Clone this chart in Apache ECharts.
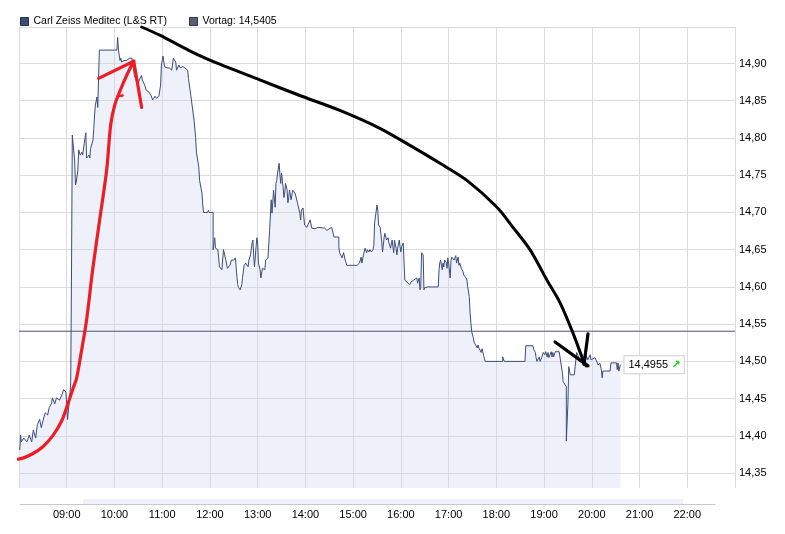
<!DOCTYPE html>
<html><head><meta charset="utf-8">
<script src="https://cdn.jsdelivr.net/npm/echarts@6/dist/echarts.min.js"></script>
<style>html,body{margin:0;padding:0;background:#fff}#c{width:785px;height:534px}</style>
</head><body><div id="c"></div>
<script>
const seriesName = 'Carl Zeiss Meditec (L&S RT)';
const prevCloseName = 'Vortag: 14,5405';
const prevClose = 14.5405;
const axisStart = '08:00', axisEnd = '23:00';
const yMin = 14.33, yMax = 14.949;
const yLabelValues = [14.35,14.40,14.45,14.50,14.55,14.60,14.65,14.70,14.75,14.80,14.85,14.90];
const navBand = ['09:19','21:50'];
const navRange = ['08:00','22:30'];

const priceTicks = [['08:01',14.381],['08:02',14.401],['08:03',14.392],['08:06',14.397],['08:10',14.392],['08:13',14.401],['08:16',14.392],['08:18',14.408],['08:21',14.397],['08:23',14.415],['08:26',14.422],['08:28',14.411],['08:31',14.424],['08:33',14.431],['08:36',14.428],['08:38',14.438],['08:41',14.444],['08:42',14.451],['08:45',14.443],['08:47',14.451],['08:51',14.448],['08:54',14.455],['08:56',14.462],['08:59',14.459],['09:01',14.422],['09:04',14.455],['09:05',14.473],['09:06',14.473],['09:06',14.620],['09:07',14.620],['09:07',14.804],['09:08',14.804],['09:10',14.769],['09:11',14.737],['09:12',14.741],['09:14',14.757],['09:15',14.784],['09:16',14.786],['09:17',14.777],['09:19',14.781],['09:20',14.777],['09:22',14.793],['09:24',14.807],['09:25',14.773],['09:28',14.777],['09:29',14.773],['09:30',14.786],['09:33',14.797],['09:34',14.813],['09:35',14.831],['09:36',14.844],['09:38',14.855],['09:39',14.841],['09:41',14.841],['09:41',14.918],['10:03',14.918],['10:04',14.935],['10:05',14.918],['10:07',14.904],['10:08',14.907],['10:09',14.902],['10:12',14.904],['10:15',14.904],['10:19',14.907],['10:22',14.907],['10:25',14.884],['10:29',14.872],['10:32',14.880],['10:34',14.884],['10:35',14.878],['10:38',14.871],['10:40',14.864],['10:43',14.862],['10:46',14.857],['10:48',14.851],['10:51',14.856],['10:53',14.853],['10:56',14.857],['10:58',14.871],['10:59',14.898],['11:01',14.910],['11:03',14.896],['11:06',14.894],['11:09',14.894],['11:12',14.891],['11:14',14.907],['11:17',14.902],['11:18',14.891],['11:21',14.898],['11:23',14.894],['11:26',14.896],['11:28',14.894],['11:32',14.891],['11:33',14.880],['11:36',14.857],['11:38',14.855],['11:40',14.824],['11:42',14.801],['11:43',14.781],['11:46',14.761],['11:47',14.743],['11:50',14.726],['11:51',14.710],['11:52',14.700],['11:57',14.700],['11:58',14.703],['11:59',14.700],['12:04',14.700],['12:04',14.650],['12:06',14.666],['12:07',14.652],['12:10',14.650],['12:12',14.627],['12:15',14.623],['12:17',14.650],['12:20',14.636],['12:22',14.625],['12:25',14.629],['12:27',14.636],['12:30',14.636],['12:32',14.639],['12:34',14.613],['12:35',14.603],['12:36',14.599],['12:38',14.596],['12:40',14.603],['12:41',14.613],['12:43',14.629],['12:45',14.632],['12:48',14.627],['12:49',14.636],['12:51',14.643],['12:53',14.659],['12:54',14.663],['12:55',14.643],['12:56',14.627],['12:58',14.654],['12:59',14.666],['13:00',14.659],['13:01',14.632],['13:03',14.623],['13:04',14.612],['13:06',14.625],['13:09',14.623],['13:10',14.636],['13:13',14.639],['13:15',14.676],['13:17',14.717],['13:18',14.699],['13:19',14.714],['13:20',14.730],['13:22',14.707],['13:23',14.739],['13:24',14.743],['13:25',14.753],['13:27',14.766],['13:28',14.750],['13:29',14.739],['13:30',14.753],['13:32',14.734],['13:33',14.720],['13:34',14.726],['13:35',14.739],['13:37',14.730],['13:38',14.713],['13:39',14.720],['13:40',14.730],['13:42',14.717],['13:44',14.730],['13:47',14.726],['13:49',14.727],['13:50',14.713],['13:53',14.699],['13:54',14.690],['13:55',14.703],['13:57',14.706],['13:58',14.694],['13:59',14.683],['14:02',14.680],['14:03',14.683],['14:06',14.690],['14:07',14.692],['14:08',14.679],['14:12',14.678],['14:16',14.680],['14:18',14.682],['14:24',14.679],['14:27',14.676],['14:33',14.680],['14:36',14.667],['14:42',14.667],['14:42',14.654],['14:43',14.646],['14:46',14.639],['14:47',14.640],['14:48',14.646],['14:50',14.636],['14:51',14.633],['14:52',14.629],['15:05',14.629],['15:08',14.632],['15:10',14.640],['15:11',14.632],['15:13',14.643],['15:15',14.652],['15:16',14.650],['15:17',14.646],['15:18',14.650],['15:20',14.647],['15:21',14.650],['15:23',14.647],['15:25',14.650],['15:26',14.656],['15:27',14.686],['15:30',14.710],['15:31',14.703],['15:32',14.683],['15:34',14.680],['15:35',14.670],['15:36',14.660],['15:37',14.647],['15:39',14.667],['15:40',14.672],['15:41',14.667],['15:42',14.663],['15:44',14.666],['15:45',14.659],['15:46',14.656],['15:47',14.652],['15:49',14.663],['15:50',14.654],['15:51',14.646],['15:52',14.663],['15:54',14.652],['15:55',14.643],['15:56',14.652],['15:58',14.663],['15:59',14.654],['16:00',14.647],['16:01',14.654],['16:03',14.659],['16:04',14.632],['16:05',14.609],['16:06',14.607],['16:11',14.603],['16:13',14.607],['16:15',14.605],['16:16',14.609],['16:20',14.612],['16:21',14.605],['16:23',14.612],['16:24',14.596],['16:25',14.599],['16:26',14.646],['16:28',14.643],['16:29',14.596],['16:30',14.599],['16:34',14.600],['16:47',14.600],['16:48',14.623],['16:49',14.633],['16:50',14.636],['16:52',14.623],['16:53',14.632],['16:54',14.627],['16:55',14.636],['16:57',14.633],['16:58',14.625],['16:59',14.639],['17:00',14.632],['17:02',14.612],['17:03',14.636],['17:04',14.640],['17:07',14.636],['17:08',14.639],['17:09',14.642],['17:10',14.632],['17:12',14.640],['17:13',14.629],['17:14',14.632],['17:16',14.625],['17:18',14.621],['17:19',14.616],['17:22',14.612],['17:23',14.609],['17:24',14.600],['17:26',14.587],['17:27',14.565],['17:28',14.552],['17:29',14.540],['17:31',14.532],['17:32',14.526],['17:33',14.525],['17:34',14.522],['17:36',14.518],['17:37',14.522],['17:38',14.518],['17:39',14.516],['17:41',14.512],['17:42',14.517],['17:43',14.513],['17:44',14.508],['17:46',14.500],['18:08',14.500],['18:08',14.506],['18:10',14.500],['18:36',14.500],['18:37',14.521],['18:46',14.521],['18:47',14.516],['18:49',14.512],['18:50',14.505],['18:51',14.500],['18:54',14.506],['18:55',14.500],['18:57',14.505],['18:59',14.512],['19:01',14.509],['19:02',14.513],['19:04',14.506],['19:05',14.512],['19:06',14.505],['19:09',14.513],['19:10',14.506],['19:11',14.512],['19:12',14.506],['19:14',14.513],['19:16',14.512],['19:19',14.513],['19:21',14.512],['19:23',14.485],['19:24',14.473],['19:26',14.471],['19:28',14.466],['19:28',14.393],['19:29',14.393],['19:30',14.444],['19:31',14.493],['19:33',14.482],['19:38',14.482],['19:39',14.493],['19:41',14.512],['19:45',14.502],['19:49',14.506],['19:52',14.500],['19:53',14.508],['19:55',14.502],['19:58',14.509],['19:59',14.502],['20:04',14.505],['20:07',14.498],['20:08',14.495],['20:10',14.498],['20:12',14.489],['20:13',14.478],['20:14',14.487],['20:17',14.487],['20:23',14.487],['20:24',14.498],['20:31',14.498],['20:32',14.489],['20:33',14.498],['20:34',14.487],['20:36',14.4955]];

// hand-drawn annotations, in (minutes since midnight, price) coordinates
const redCurve = [[458.1,14.368],[480.8,14.369],[497.1,14.376],[509.6,14.385],[522.3,14.400],[533.6,14.420],[541.1,14.442],[547.4,14.462],[552.5,14.478],[558.7,14.515],[565.0,14.556],[572.6,14.623],[581.4,14.690],[590.2,14.757],[595.2,14.817],[600.3,14.844],[606.5,14.862],[615.3,14.884],[624.2,14.903]];
const redBarbLeft = [[580.1,14.880],[624.2,14.903]];
const redBarbRight = [[624.2,14.903],[634.2,14.841]];
const redSpur = [[604.0,14.856],[610.3,14.857]];
const blackCurve = [[634.2,14.949],[656.9,14.938],[698.4,14.915],[732.3,14.899],[782.7,14.878],[833.0,14.857],[883.3,14.837],[933.6,14.813],[971.4,14.790],[1009.1,14.766],[1043.0,14.743],[1080.8,14.707],[1100.9,14.680],[1122.3,14.650],[1143.7,14.609],[1160.0,14.579],[1176.4,14.538],[1189.0,14.502],[1192.8,14.494]];
const blackBarbLeft = [[1153.8,14.526],[1195.2,14.494]];
const blackBarbRight = [[1195.2,14.537],[1190.2,14.496]];

function toMin(t){const p=t.split(':');return (+p[0])*60+(+p[1]);}
function pad(n){return (n<10?'0':'')+n;}
function fmtTime(v){return pad(Math.floor(v/60))+':'+pad(v%60);}
function fmtNum(v,d){return v.toFixed(d).replace('.',',');}

const FONT = 'Liberation Sans';
const chart = echarts.init(document.getElementById('c'), null, {renderer:'canvas'});
const mainData = priceTicks.map(p=>[toMin(p[0]),p[1]]);
const xMin = toMin(axisStart), xMax = toMin(axisEnd);

function stroke(data, color, width, smooth){
  return {type:'line', data:data, xAxisIndex:0, yAxisIndex:0, symbol:'none', clip:false, silent:true,
    smooth:smooth, lineStyle:{color:color, width:width, cap:'round', join:'round'}, z:10, animation:false};
}

chart.setOption({
  animation:false,
  backgroundColor:'#fff',
  textStyle:{fontFamily:FONT},
  legend:[
    {left:20, top:16, padding:0, icon:'rect', itemWidth:8, itemHeight:8, selectedMode:false,
     data:[{name:seriesName, itemStyle:{color:'#3e4b72', borderColor:'#25304d', borderWidth:1}}],
     textStyle:{fontFamily:FONT, fontSize:10.5, color:'#000'}},
    {left:189, top:16, padding:0, icon:'rect', itemWidth:8, itemHeight:8, selectedMode:false,
     data:[{name:prevCloseName, itemStyle:{color:'#5a5f70', borderColor:'#33384a', borderWidth:1}}],
     textStyle:{fontFamily:FONT, fontSize:10.5, color:'#000'}}
  ],
  grid:[
    {left:19, right:50, top:27, bottom:46},
    {left:20, top:499, width:695, height:5}
  ],
  xAxis:[
    {type:'value', gridIndex:0, min:xMin, max:xMax, interval:60,
     axisLine:{show:false}, axisTick:{show:false},
     splitLine:{show:true, lineStyle:{color:'#dcdcdc', width:1}},
     axisLabel:{show:true, margin:21, showMinLabel:false, showMaxLabel:false, formatter:fmtTime,
       fontFamily:FONT, fontSize:11, color:'#000'}},
    {type:'value', gridIndex:1, min:toMin(navRange[0]), max:toMin(navRange[1]),
     axisLine:{show:true, lineStyle:{color:'#c8c8c8'}}, axisTick:{show:false}, axisLabel:{show:false}, splitLine:{show:false}}
  ],
  yAxis:[
    {type:'value', gridIndex:0, position:'right', min:yMin, max:yMax,
     axisLine:{show:false},
     axisTick:{show:false, customValues:yLabelValues.concat([yMax])},
     splitLine:{show:true, lineStyle:{color:'#dcdcdc', width:1}},
     axisLabel:{show:true, margin:4, customValues:yLabelValues, formatter:v=>fmtNum(v,2),
       fontFamily:FONT, fontSize:11, color:'#000'}},
    {type:'value', gridIndex:1, min:0, max:1, show:false}
  ],
  series:[
    {name:seriesName, type:'line', data:mainData, symbol:'none', showSymbol:false,
     lineStyle:{color:'#3d4c7a', width:1},
     itemStyle:{color:'#3e4b72'},
     areaStyle:{color:'#c9d3ef', opacity:0.32, origin:'start'},
     endLabel:{show:true, distance:4,
       formatter:p=>'{v|'+fmtNum(p.value[1],4)+'} {a|\u2197}',
       backgroundColor:'#fff', borderColor:'#d0d0d0', borderWidth:1, padding:[3,3,2,4],
       rich:{v:{fontFamily:FONT, fontSize:11, color:'#000'}, a:{fontFamily:'DejaVu Sans', fontSize:11, color:'#19d419', fontWeight:'bold'}}},
     z:3},
    {name:prevCloseName, type:'line', data:[[xMin,prevClose],[xMax,prevClose]], symbol:'none',
     lineStyle:{color:'#4a5478', width:1}, itemStyle:{color:'#5a5f70'}, silent:true, z:4},
    stroke(redCurve,'#ee1c24',3.2,0.3),
    stroke(redBarbLeft,'#ee1c24',3.2,false),
    stroke(redBarbRight,'#ee1c24',3.2,false),
    stroke(redSpur,'#ee1c24',2.5,false),
    stroke(blackCurve,'#000',3,0.3),
    stroke(blackBarbLeft,'#000',3.2,false),
    stroke(blackBarbRight,'#000',3.2,false),
    {type:'line', xAxisIndex:1, yAxisIndex:1, data:[], silent:true,
     markArea:{silent:true, itemStyle:{color:'#eef1fa'},
       data:[[{xAxis:toMin(navBand[0])},{xAxis:toMin(navBand[1])}]]}}
  ]
});
</script></body></html>
